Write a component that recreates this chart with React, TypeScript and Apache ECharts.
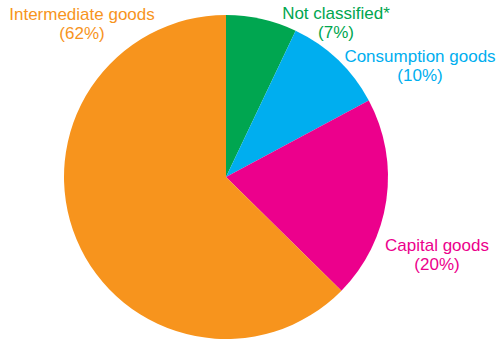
import React, { useEffect, useRef } from "react";
import * as echarts from "echarts";

const categories = ["Not classified*", "Consumption goods", "Capital goods", "Intermediate goods"];
const values = [7, 10, 20, 62];
const colors = ["#00A650", "#00AEEF", "#EC008C", "#F7941D"];
const labelPositions: [number, number][] = [
  [336, 23],
  [420, 66],
  [437, 255],
  [82, 24],
];

export default function App() {
  const ref = useRef<HTMLDivElement>(null);
  useEffect(() => {
    document.body.style.margin = "0";
    const chart = echarts.init(ref.current!, null, { renderer: "svg" });
    chart.setOption({
      animation: false,
      backgroundColor: "#ffffff",
      series: [
        {
          type: "pie",
          center: [226, 177],
          radius: [0, 162],
          startAngle: 90,
          clockwise: true,
          silent: true,
          itemStyle: { borderWidth: 0 },
          label: {
            show: true,
            position: "inside",
            overflow: "none",
            formatter: (p: any) => `${p.name}\n(${p.value}%)`,
            fontFamily: "Liberation Sans, Arial, sans-serif",
            fontSize: 17,
            lineHeight: 19,
            align: "center",
          },
          labelLine: { show: false },
          labelLayout: (params: any) => ({
            x: labelPositions[params.dataIndex][0],
            y: labelPositions[params.dataIndex][1],
            align: "center",
            verticalAlign: "middle",
          }),
          data: categories.map((name, i) => ({
            name,
            value: values[i],
            itemStyle: { color: colors[i] },
            label: { color: colors[i] },
          })),
        },
      ],
    });
    return () => chart.dispose();
  }, []);
  return <div ref={ref} style={{ width: 499, height: 339 }} />;
}
